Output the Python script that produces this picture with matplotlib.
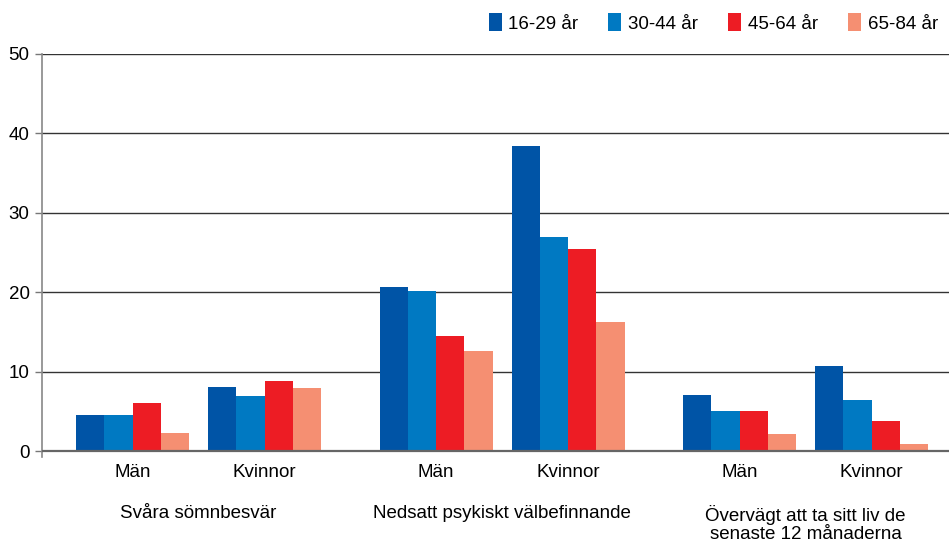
"""Grouped bar chart: sleep problems, wellbeing and suicidal thoughts by sex and age"""

import numpy as np
import matplotlib.pyplot as plt
from matplotlib.patches import Patch

plt.rcParams["font.family"] = ["Liberation Sans", "DejaVu Sans"]

# data (percent)
groups = ["Svåra sömnbesvär", "Nedsatt psykiskt välbefinnande",
          "Övervägt att ta sitt liv de\nsenaste 12 månaderna"]
sexes = ["Män", "Kvinnor"]
age_labels = ["16-29 år", "30-44 år", "45-64 år", "65-84 år"]
# one list per age group, order: (grupp1 Män, Kvinnor, grupp2 Män, Kvinnor, grupp3 Män, Kvinnor)
age_16_29 = [4.5, 8.1, 20.7, 38.4, 7.1, 10.7]
age_30_44 = [4.5, 6.9, 20.1, 26.9, 5.1, 6.4]
age_45_64 = [6.0, 8.8, 14.5, 25.5, 5.1, 3.8]
age_65_84 = [2.3, 7.9, 12.6, 16.2, 2.2, 0.9]
colors = ["#0054a6", "#0079c2", "#ed1c24", "#f58f72"]


def main():
    fig = plt.figure(figsize=(9.49, 5.42), dpi=100)
    ax = fig.add_axes([0.0443, 0.1576, 0.9557, 0.7428])

    series = [age_16_29, age_30_44, age_45_64, age_65_84]
    group_step = 2.3
    centers = np.array([g * group_step + s for g in range(len(groups)) for s in range(len(sexes))])
    width = 0.214

    for i, vals in enumerate(series):
        offs = (i - 1.5) * width
        ax.bar(centers + offs, vals, width, color=colors[i], zorder=3, linewidth=0)

    # horizontal grid lines
    for y in [10, 20, 30, 40, 50]:
        ax.axhline(y, color="#333333", lw=1.0, zorder=1)
    ax.axhline(0, color="#666666", lw=1.6, zorder=4)

    ax.set_xlim(-0.686, 6.186)
    ax.set_ylim(-0.7, 50)
    ax.set_yticks([0, 10, 20, 30, 40, 50])
    ax.tick_params(axis="y", length=5, width=1, color="#777777", pad=4, labelsize=13.5)
    ax.set_xticks(centers)
    ax.set_xticklabels(sexes * len(groups), fontsize=13.5)
    ax.tick_params(axis="x", length=0, pad=5)

    for side in ["top", "right", "bottom"]:
        ax.spines[side].set_visible(False)
    ax.spines["left"].set_color("#888888")
    ax.spines["left"].set_linewidth(1.2)

    # group labels under the sex labels
    trans = ax.get_xaxis_transform()
    for g, name in enumerate(groups):
        xc = g * group_step + 0.5
        ax.text(xc, -0.12, name, transform=trans, ha="center", va="top",
                fontsize=13.5, linespacing=1.05)

    handles = [Patch(facecolor=c, edgecolor="none") for c in colors]
    fig.legend(handles, age_labels, loc="center right", bbox_to_anchor=(1.0, 1 - 23 / 542),
               ncol=4, frameon=False, fontsize=13.5, handlelength=0.7, handleheight=1.1,
               handletextpad=0.35, columnspacing=1.6, borderaxespad=0.2)

    fig.savefig("out.png", dpi=100)


if __name__ == "__main__":
    main()
